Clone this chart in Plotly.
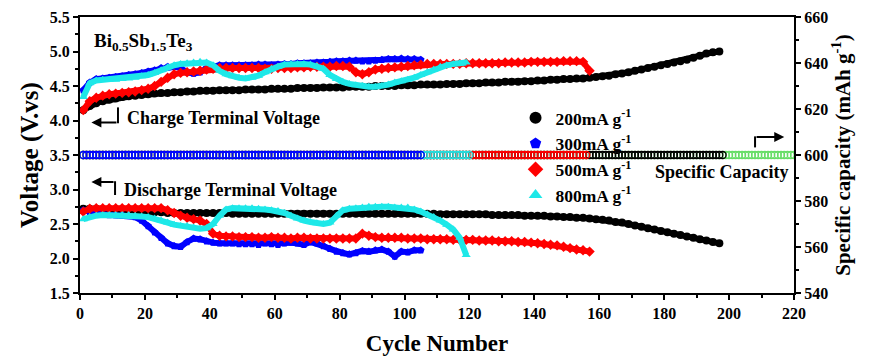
import plotly.graph_objects as go

# ---------------- data (every 2nd cycle) ----------------
black_charge = [4.15, 4.21, 4.25, 4.28, 4.30, 4.32, 4.34, 4.35, 4.36, 4.37,
                4.38, 4.39, 4.40, 4.40, 4.41, 4.41, 4.42, 4.42, 4.43, 4.43,
                4.43, 4.44, 4.44, 4.44, 4.44, 4.45, 4.45, 4.45, 4.45, 4.46,
                4.46, 4.46, 4.46, 4.47, 4.47, 4.47, 4.47, 4.48, 4.48, 4.48,
                4.48, 4.49, 4.49, 4.49, 4.49, 4.50, 4.50, 4.50, 4.50, 4.51,
                4.51, 4.51, 4.52, 4.52, 4.52, 4.52, 4.53, 4.53, 4.53, 4.54,
                4.54, 4.54, 4.55, 4.55, 4.55, 4.56, 4.56, 4.56, 4.57, 4.57,
                4.58, 4.58, 4.59, 4.59, 4.60, 4.60, 4.61, 4.61, 4.62, 4.63,
                4.64, 4.65, 4.67, 4.68, 4.70, 4.72, 4.74, 4.76, 4.78, 4.80,
                4.82, 4.84, 4.86, 4.88, 4.91, 4.94, 4.97, 4.99, 5.00]
black_discharge = [2.72, 2.72, 2.72, 2.71, 2.71, 2.71, 2.70, 2.70, 2.70, 2.69,
                   2.68, 2.67, 2.67, 2.66, 2.66, 2.66, 2.66, 2.66, 2.66, 2.66,
                   2.66, 2.66, 2.66, 2.65, 2.65, 2.65, 2.65, 2.65, 2.65, 2.65,
                   2.65, 2.65, 2.65, 2.65, 2.65, 2.65, 2.65, 2.65, 2.65, 2.65,
                   2.65, 2.65, 2.65, 2.65, 2.65, 2.65, 2.65, 2.65, 2.65, 2.65,
                   2.65, 2.65, 2.65, 2.65, 2.65, 2.64, 2.64, 2.64, 2.64, 2.64,
                   2.64, 2.64, 2.64, 2.63, 2.63, 2.63, 2.63, 2.63, 2.62, 2.62,
                   2.62, 2.62, 2.61, 2.61, 2.60, 2.60, 2.59, 2.59, 2.58, 2.57,
                   2.56, 2.55, 2.53, 2.52, 2.50, 2.48, 2.46, 2.44, 2.42, 2.40,
                   2.38, 2.36, 2.34, 2.32, 2.30, 2.28, 2.26, 2.24, 2.22]

blue_charge = [4.44, 4.55, 4.60, 4.61, 4.62, 4.63, 4.64, 4.66, 4.67, 4.69,
               4.71, 4.73, 4.76, 4.78, 4.78, 4.76, 4.70, 4.68, 4.70, 4.76,
               4.79, 4.80, 4.80, 4.80, 4.80, 4.80, 4.80, 4.81, 4.81, 4.80,
               4.81, 4.82, 4.82, 4.83, 4.83, 4.83, 4.84, 4.84, 4.85, 4.86,
               4.86, 4.87, 4.87, 4.86, 4.86, 4.87, 4.88, 4.89, 4.89, 4.90,
               4.89, 4.89, 4.88]
blue_discharge = [2.70, 2.67, 2.65, 2.64, 2.63, 2.63, 2.63, 2.62, 2.60, 2.55,
                  2.47, 2.38, 2.30, 2.22, 2.18, 2.17, 2.24, 2.29, 2.28, 2.25,
                  2.23, 2.22, 2.22, 2.22, 2.21, 2.21, 2.21, 2.20, 2.22, 2.21,
                  2.20, 2.22, 2.23, 2.22, 2.20, 2.24, 2.22, 2.18, 2.14, 2.10,
                  2.08, 2.06, 2.08, 2.11, 2.10, 2.12, 2.13, 2.10, 2.03, 2.10,
                  2.09, 2.12, 2.12]

red_charge = [4.15, 4.28, 4.33, 4.36, 4.38, 4.39, 4.40, 4.41, 4.42, 4.44,
              4.46, 4.50, 4.56, 4.62, 4.67, 4.69, 4.70, 4.71, 4.72, 4.74,
              4.75, 4.76, 4.76, 4.76, 4.76, 4.76, 4.76, 4.76, 4.75, 4.75,
              4.76, 4.76, 4.76, 4.77, 4.77, 4.78, 4.78, 4.78, 4.78, 4.79,
              4.79, 4.78, 4.70, 4.67, 4.70, 4.74, 4.75, 4.76, 4.77, 4.78,
              4.79, 4.80, 4.81, 4.82, 4.82, 4.82, 4.82, 4.82, 4.82, 4.83,
              4.83, 4.83, 4.83, 4.83, 4.83, 4.84, 4.84, 4.84, 4.84, 4.85,
              4.85, 4.85, 4.85, 4.85, 4.86, 4.86, 4.86, 4.85, 4.72]
red_discharge = [2.68, 2.72, 2.73, 2.73, 2.73, 2.73, 2.73, 2.73, 2.73, 2.73,
                 2.73, 2.73, 2.73, 2.70, 2.66, 2.62, 2.59, 2.57, 2.55, 2.50,
                 2.36, 2.33, 2.32, 2.32, 2.31, 2.31, 2.31, 2.30, 2.30, 2.31,
                 2.30, 2.30, 2.29, 2.30, 2.30, 2.29, 2.29, 2.29, 2.29, 2.29,
                 2.29, 2.29, 2.29, 2.36, 2.33, 2.31, 2.30, 2.30, 2.30, 2.30,
                 2.29, 2.29, 2.29, 2.28, 2.28, 2.28, 2.28, 2.27, 2.27, 2.27,
                 2.27, 2.26, 2.26, 2.26, 2.25, 2.25, 2.25, 2.24, 2.24, 2.23,
                 2.22, 2.21, 2.20, 2.19, 2.17, 2.15, 2.13, 2.12, 2.10]

cyan_charge = [4.34, 4.54, 4.58, 4.59, 4.59, 4.59, 4.60, 4.61, 4.62, 4.64,
               4.66, 4.69, 4.73, 4.77, 4.80, 4.82, 4.83, 4.84, 4.85, 4.84,
               4.80, 4.72, 4.67, 4.64, 4.62, 4.61, 4.62, 4.65, 4.70, 4.75,
               4.78, 4.81, 4.82, 4.82, 4.82, 4.81, 4.79, 4.75, 4.66, 4.60,
               4.56, 4.53, 4.51, 4.50, 4.49, 4.49, 4.50, 4.52, 4.55, 4.57,
               4.59, 4.62, 4.66, 4.70, 4.74, 4.78, 4.80, 4.82, 4.83, 4.84]
cyan_discharge = [2.57, 2.60, 2.62, 2.63, 2.63, 2.63, 2.63, 2.63, 2.62, 2.61,
                  2.60, 2.58, 2.55, 2.52, 2.49, 2.47, 2.47, 2.45, 2.43, 2.44,
                  2.50, 2.62, 2.71, 2.73, 2.73, 2.73, 2.73, 2.72, 2.71, 2.70,
                  2.69, 2.66, 2.62, 2.58, 2.55, 2.53, 2.51, 2.50, 2.52, 2.62,
                  2.70, 2.72, 2.73, 2.74, 2.75, 2.75, 2.75, 2.75, 2.74, 2.74,
                  2.74, 2.71, 2.68, 2.64, 2.60, 2.55, 2.49, 2.42, 2.30, 2.05]

capacity_value = 600          # specific capacity (mAh g-1), same for every cycle
capacity_last_cycle = {"black": 198, "red": 156, "cyan": 120, "blue": 105, "green": 220}

legend_names = ["200mA g<sup>-1</sup>", "300mA g<sup>-1</sup>",
                "500mA g<sup>-1</sup>", "800mA g<sup>-1</sup>"]

x_ticks = [0, 20, 40, 60, 80, 100, 120, 140, 160, 180, 200, 220]
y_ticks = [1.5, 2.0, 2.5, 3.0, 3.5, 4.0, 4.5, 5.0, 5.5]
y2_ticks = [540, 560, 580, 600, 620, 640, 660]


def cyc(values):
    return list(range(1, 2 * len(values), 2))


FONT = "Liberation Serif"
fig = go.Figure()

# ---------------- capacity (right axis) ----------------
cap_styles = [("green", "#66dd66"), ("black", "#000000"), ("red", "#ff0000"),
              ("cyan", "#22e0e0"), ("blue", "#0000ff")]
for key, col in cap_styles:
    n = capacity_last_cycle[key]
    xs = list(range(1, n + 1))
    fig.add_trace(go.Scatter(
        x=xs, y=[capacity_value] * n, yaxis="y2", mode="markers",
        marker=dict(symbol="circle-open", size=7, color=col, line=dict(width=1.3)),
        showlegend=False, hoverinfo="skip"))

# ---------------- voltage series ----------------
series = [
    (black_charge, black_discharge, "#000000", "circle", 8, legend_names[0]),
    (blue_charge, blue_discharge, "#0000ff", "pentagon", 8, legend_names[1]),
    (red_charge, red_discharge, "#ff0000", "diamond", 8, legend_names[2]),
    (cyan_charge, cyan_discharge, "#1ee8e8", "triangle-up", 8, legend_names[3]),
]
for i, (ch, dis, col, sym, sz, name) in enumerate(series):
    for vals in [ch, dis]:
        fig.add_trace(go.Scatter(
            x=cyc(vals), y=vals, mode="lines+markers",
            line=dict(color=col, width=6),
            marker=dict(symbol=sym, size=sz, color=col, line=dict(width=0)),
            name=name, legendgroup=f"g{i}", showlegend=False))
# legend entries (markers only, as in the original legend)
for i, (ch, dis, col, sym, sz, name) in enumerate(series):
    fig.add_trace(go.Scatter(
        x=[None], y=[None], mode="markers",
        marker=dict(symbol=sym, size=11, color=col, line=dict(width=0)),
        name=name, legendgroup=f"g{i}", showlegend=True, legendrank=i + 1))

# ---------------- annotations ----------------
txt = dict(family=FONT, size=18, color="black", weight="bold")
ann = [
    dict(x=3.7, y=5.14, text="Bi<sub>0.5</sub>Sb<sub>1.5</sub>Te<sub>3</sub>",
         xanchor="left", yanchor="middle", showarrow=False,
         font=dict(family=FONT, size=19, color="black", weight="bold")),
    dict(x=13.9, y=4.04, text="Charge Terminal Voltage",
         xanchor="left", yanchor="middle", showarrow=False, font=txt),
    dict(x=12.9, y=2.99, text="Discharge Terminal Voltage",
         xanchor="left", yanchor="middle", showarrow=False, font=txt),
    dict(x=218.8, y=3.25, text="Specific Capacity",
         xanchor="right", yanchor="middle", showarrow=False, font=txt),
    # arrows
    dict(x=3.5, y=3.97, ax=11.7, ay=3.97, axref="x", ayref="y", text="",
         showarrow=True, arrowhead=2, arrowsize=1, arrowwidth=2, arrowcolor="black"),
    dict(x=3.5, y=3.11, ax=10.8, ay=3.11, axref="x", ayref="y", text="",
         showarrow=True, arrowhead=2, arrowsize=1, arrowwidth=2, arrowcolor="black"),
    dict(x=217, y=3.76, ax=208, ay=3.76, axref="x", ayref="y", text="",
         showarrow=True, arrowhead=2, arrowsize=1, arrowwidth=2, arrowcolor="black"),
]
shapes = [
    dict(type="line", x0=11.7, x1=11.7, y0=3.96, y1=4.19, xref="x", yref="y",
         line=dict(color="black", width=2)),
    dict(type="line", x0=10.8, x1=10.8, y0=3.12, y1=2.92, xref="x", yref="y",
         line=dict(color="black", width=2)),
    dict(type="line", x0=208, x1=208, y0=3.77, y1=3.61, xref="x", yref="y",
         line=dict(color="black", width=2)),
]

tickfont = dict(family=FONT, size=16, color="black", weight="bold")
axis_common = dict(showline=True, linecolor="black", linewidth=2, ticks="outside",
                   tickwidth=2, ticklen=5, tickcolor="black", showgrid=False,
                   zeroline=False, tickfont=tickfont, automargin=False)

fig.update_layout(
    width=872, height=356,
    margin=dict(l=80, r=78, t=17, b=63),
    paper_bgcolor="white", plot_bgcolor="white",
    font=dict(family=FONT, color="black"),
    xaxis=dict(range=[0, 220], tickvals=x_ticks, mirror=True,
               minor=dict(dtick=10, ticks="outside", ticklen=3, tickwidth=2, tickcolor="black"),
               title=dict(text="Cycle Number", standoff=16,
                          font=dict(family=FONT, size=23, color="black", weight="bold")),
               **axis_common),
    yaxis=dict(range=[1.5, 5.5], tickvals=y_ticks, tickformat=".1f",
               minor=dict(dtick=0.25, ticks="outside", ticklen=3, tickwidth=2, tickcolor="black"),
               title=dict(text="Voltage (V.vs)", standoff=4,
                          font=dict(family=FONT, size=25, color="black", weight="bold")),
               **axis_common),
    yaxis2=dict(range=[540, 660], tickvals=y2_ticks, overlaying="y", side="right",
                minor=dict(dtick=10, ticks="outside", ticklen=3, tickwidth=2, tickcolor="black"),
                title=dict(text="Specific capacity (mAh g<sup>-1</sup>)", standoff=6,
                           font=dict(family=FONT, size=21, color="black", weight="bold")),
                **axis_common),
    legend=dict(x=0.61, y=0.70, xanchor="left", yanchor="top",
                bgcolor="rgba(0,0,0,0)", borderwidth=0,
                font=dict(family=FONT, size=17.5, color="black", weight="bold"),
                tracegroupgap=0, itemsizing="constant"),
    annotations=ann, shapes=shapes,
)

fig.write_html("out.html")
